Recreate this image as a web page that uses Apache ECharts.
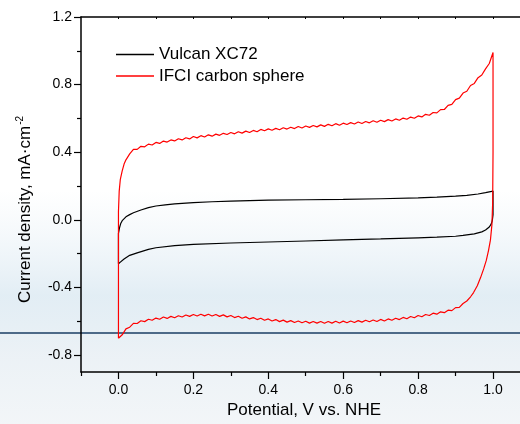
<!DOCTYPE html>
<html>
<head>
<meta charset="utf-8">
<script src="https://cdn.jsdelivr.net/npm/echarts@6/dist/echarts.min.js"></script>
<style>
  html, body { margin: 0; padding: 0; background: #fff; }
  #chart { width: 520px; height: 424px; }
</style>
</head>
<body>
<div id="chart"></div>
<script>
// axis ticks
const xMajorTicks = [0, 0.2, 0.4, 0.6, 0.8, 1.0];
const xMinorTicks = [-0.1, 0.1, 0.3, 0.5, 0.7, 0.9];
const xTopTicks = [0, 0.1, 0.2, 0.3, 0.4, 0.5, 0.6, 0.7, 0.8, 0.9, 1.0];
const yMajorTicks = [-0.8, -0.4, 0, 0.4, 0.8, 1.2];
const yMinorTicks = [-0.6, -0.2, 0.2, 0.6, 1.0];

// Vulcan XC72: anodic sweep, then cathodic sweep (potential V, current mA/cm2)
const vulcanFwd = [
  [0, -0.26], [0, -0.08], [0.003, -0.045], [0.006, -0.022], [0.01, -0.005],
  [0.02, 0.018], [0.03, 0.031], [0.04, 0.042], [0.06, 0.058], [0.08, 0.072],
  [0.1, 0.082], [0.125, 0.089], [0.15, 0.094], [0.2, 0.102], [0.25, 0.107],
  [0.3, 0.111], [0.4, 0.117], [0.5, 0.119], [0.6, 0.121], [0.7, 0.125],
  [0.8, 0.13], [0.85, 0.134], [0.9, 0.14], [0.93, 0.145], [0.96, 0.153],
  [0.98, 0.161], [1.0, 0.17]
];
const vulcanRev = [
  [1.0, 0.03], [0.998, -0.005], [0.995, -0.025], [0.99, -0.042], [0.98, -0.06],
  [0.97, -0.071], [0.95, -0.083], [0.92, -0.092], [0.9, -0.097], [0.85, -0.102],
  [0.8, -0.106], [0.7, -0.113], [0.6, -0.119], [0.5, -0.125], [0.4, -0.131],
  [0.3, -0.137], [0.2, -0.145], [0.15, -0.152], [0.1, -0.165], [0.08, -0.175],
  [0.05, -0.195], [0.03, -0.21], [0.015, -0.232], [0.005, -0.25], [0, -0.26]
];

// IFCI carbon sphere
const ifciFwd = [
  [0, -0.7], [0, 0.05], [0.002, 0.17], [0.005, 0.24], [0.01, 0.29],
  [0.015, 0.33], [0.02, 0.355], [0.03, 0.39],
  [0.04, 0.417], [0.05, 0.417], [0.06, 0.435], [0.07, 0.432], [0.08, 0.448],
  [0.09, 0.443], [0.10, 0.458], [0.11, 0.452], [0.12, 0.466], [0.13, 0.460],
  [0.14, 0.473], [0.15, 0.467], [0.16, 0.480], [0.17, 0.473], [0.18, 0.486],
  [0.19, 0.479], [0.20, 0.493], [0.21, 0.485], [0.22, 0.498], [0.23, 0.490],
  [0.24, 0.503], [0.25, 0.495], [0.26, 0.507], [0.27, 0.500], [0.28, 0.512],
  [0.29, 0.505], [0.30, 0.517], [0.31, 0.509], [0.32, 0.521], [0.33, 0.513],
  [0.34, 0.525], [0.35, 0.517], [0.36, 0.529], [0.37, 0.521], [0.38, 0.535],
  [0.39, 0.527], [0.40, 0.538], [0.41, 0.530], [0.42, 0.541], [0.43, 0.533],
  [0.44, 0.545], [0.45, 0.537], [0.46, 0.548], [0.47, 0.540], [0.48, 0.552],
  [0.49, 0.543], [0.50, 0.555], [0.51, 0.547], [0.52, 0.558], [0.53, 0.550],
  [0.54, 0.562], [0.55, 0.553], [0.56, 0.565], [0.57, 0.557], [0.58, 0.569],
  [0.59, 0.560], [0.60, 0.572], [0.61, 0.564], [0.62, 0.575], [0.63, 0.567],
  [0.64, 0.579], [0.65, 0.570], [0.66, 0.582], [0.67, 0.574], [0.68, 0.586],
  [0.69, 0.577], [0.70, 0.589], [0.71, 0.581], [0.72, 0.593], [0.73, 0.585],
  [0.74, 0.597], [0.75, 0.589], [0.76, 0.602], [0.77, 0.595], [0.78, 0.608],
  [0.79, 0.601], [0.80, 0.615], [0.81, 0.609], [0.82, 0.624], [0.83, 0.619],
  [0.84, 0.635], [0.85, 0.633], [0.86, 0.652], [0.87, 0.653], [0.88, 0.677],
  [0.89, 0.683], [0.90, 0.711], [0.91, 0.720], [0.92, 0.750], [0.93, 0.761],
  [0.94, 0.795], [0.95, 0.807], [0.96, 0.841], [0.97, 0.857], [0.98, 0.893],
  [0.99, 0.925], [1.0, 0.99]
];
const ifciRev = [
  [1.0, 0.99], [1.0, 0.4], [0.999, 0.1], [0.997, -0.03], [0.993, -0.12],
  [0.988, -0.18], [0.982, -0.24], [0.975, -0.29], [0.967, -0.34], [0.958, -0.39],
  [0.948, -0.43], [0.94, -0.455], [0.93, -0.48],
  [0.92, -0.495], [0.91, -0.518], [0.90, -0.519], [0.89, -0.537], [0.88, -0.534],
  [0.87, -0.549], [0.86, -0.544], [0.85, -0.558], [0.84, -0.552], [0.83, -0.566],
  [0.82, -0.560], [0.81, -0.573], [0.80, -0.566], [0.79, -0.579], [0.78, -0.572],
  [0.77, -0.585], [0.76, -0.577], [0.75, -0.590], [0.74, -0.582], [0.73, -0.594],
  [0.72, -0.586], [0.71, -0.598], [0.70, -0.589], [0.69, -0.601], [0.68, -0.592],
  [0.67, -0.603], [0.66, -0.594], [0.65, -0.605], [0.64, -0.596], [0.63, -0.607],
  [0.62, -0.598], [0.61, -0.609], [0.60, -0.599], [0.59, -0.610], [0.58, -0.600],
  [0.57, -0.611], [0.56, -0.601], [0.55, -0.612], [0.54, -0.601], [0.53, -0.611],
  [0.52, -0.601], [0.51, -0.611], [0.50, -0.600], [0.49, -0.609], [0.48, -0.598],
  [0.47, -0.607], [0.46, -0.596], [0.45, -0.605], [0.44, -0.593], [0.43, -0.602],
  [0.42, -0.590], [0.41, -0.598], [0.40, -0.586], [0.39, -0.594], [0.38, -0.582],
  [0.37, -0.590], [0.36, -0.578], [0.35, -0.586], [0.34, -0.574], [0.33, -0.582],
  [0.32, -0.570], [0.31, -0.578], [0.30, -0.566], [0.29, -0.574], [0.28, -0.562],
  [0.27, -0.571], [0.26, -0.560], [0.25, -0.569], [0.24, -0.558], [0.23, -0.568],
  [0.22, -0.558], [0.21, -0.569], [0.20, -0.560], [0.19, -0.571], [0.18, -0.563],
  [0.17, -0.575], [0.16, -0.567], [0.15, -0.579], [0.14, -0.571], [0.13, -0.583],
  [0.12, -0.575], [0.11, -0.588], [0.10, -0.581], [0.09, -0.594], [0.08, -0.588],
  [0.07, -0.602], [0.06, -0.597], [0.05, -0.613], [0.04, -0.612], [0.03, -0.635],
  [0.02, -0.645], [0.01, -0.680], [0, -0.7]
];

const FONT = '"Liberation Sans", Arial, sans-serif';
const fmt = (v) => v.toFixed(1);

const chart = echarts.init(document.getElementById('chart'));

chart.setOption({
  animation: false,
  backgroundColor: '#fff',
  textStyle: { fontFamily: FONT },
  graphic: [
    {
      type: 'rect', silent: true, z: -10,
      shape: { x: 0, y: 190, width: 520, height: 234 },
      style: {
        fill: new echarts.graphic.LinearGradient(0, 0, 0, 1, [
          { offset: 0, color: 'rgba(225,236,244,0)' },
          { offset: 0.45, color: 'rgba(214,230,240,0.7)' },
          { offset: 0.7, color: 'rgba(232,239,244,0.85)' },
          { offset: 1, color: 'rgba(240,244,247,0.85)' }
        ])
      }
    },
    {
      type: 'rect', silent: true, z: -5,
      shape: { x: 0, y: 332, width: 520, height: 2 },
      style: { fill: '#4d6a88' }
    }
  ],
  // the frame runs past the right edge of the picture: x max is what fits in 520px
  grid: { left: 81, top: 17, right: 0, height: 357, containLabel: false },
  legend: {
    orient: 'vertical',
    left: 116,
    top: 46,
    padding: 0,
    icon: 'rect',
    itemWidth: 38,
    itemHeight: 1.3,
    itemGap: 4.5,
    textStyle: { fontFamily: FONT, fontSize: 17, color: '#000' },
    data: ['Vulcan XC72', 'IFCI carbon sphere']
  },
  xAxis: [
    {
      type: 'value', min: -0.1, max: 1.072, position: 'bottom',
      name: 'Potential, V vs. NHE', nameLocation: 'middle', nameGap: 30,
      nameTextStyle: { fontFamily: FONT, fontSize: 17, color: '#000', padding: [0, 0, 0, 7] },
      axisLine: { show: true, onZero: false, lineStyle: { color: '#000', width: 1.5 } },
      axisTick: { show: true, length: 7, customValues: xMajorTicks, lineStyle: { color: '#000', width: 1.2 } },
      axisLabel: { customValues: xMajorTicks, formatter: fmt, margin: 11, fontFamily: FONT, fontSize: 14, color: '#000' },
      splitLine: { show: false }
    },
    {
      type: 'value', min: -0.1, max: 1.072, position: 'bottom',
      axisLine: { show: false, onZero: false },
      axisTick: { show: true, length: 4, customValues: xMinorTicks, lineStyle: { color: '#000', width: 1.2 } },
      axisLabel: { show: false },
      splitLine: { show: false }
    },
    {
      type: 'value', min: -0.1, max: 1.072, position: 'top',
      axisLine: { show: true, onZero: false, lineStyle: { color: '#000', width: 1.5 } },
      axisTick: { show: true, inside: true, length: 2, customValues: xTopTicks, lineStyle: { color: '#000', width: 1 } },
      axisLabel: { show: false },
      splitLine: { show: false }
    }
  ],
  yAxis: [
    {
      type: 'value', min: -0.9, max: 1.2, position: 'left',
      name: 'Current density, mA·cm{sup|-2}', nameLocation: 'middle', nameGap: 46,
      nameTextStyle: {
        fontFamily: FONT, fontSize: 17, color: '#000', padding: [0, 30, 0, 0],
        rich: { sup: { fontFamily: FONT, fontSize: 10, color: '#000', verticalAlign: 'top', padding: [0, 0, 10, 1] } }
      },
      axisLine: { show: true, onZero: false, lineStyle: { color: '#000', width: 1.5 } },
      axisTick: { show: true, length: 7, customValues: yMajorTicks, lineStyle: { color: '#000', width: 1.2 } },
      axisLabel: { customValues: yMajorTicks, formatter: fmt, margin: 9, fontFamily: FONT, fontSize: 14, color: '#000' },
      splitLine: { show: false }
    },
    {
      type: 'value', min: -0.9, max: 1.2, position: 'left',
      axisLine: { show: false, onZero: false },
      axisTick: { show: true, length: 4, customValues: yMinorTicks, lineStyle: { color: '#000', width: 1.2 } },
      axisLabel: { show: false },
      splitLine: { show: false }
    }
  ],
  series: [
    {
      name: 'Vulcan XC72', type: 'line', xAxisIndex: 0, yAxisIndex: 0,
      data: vulcanFwd.concat(vulcanRev),
      symbol: 'none', showSymbol: false,
      lineStyle: { color: '#000', width: 1.2 },
      itemStyle: { color: '#000' }
    },
    {
      name: 'IFCI carbon sphere', type: 'line', xAxisIndex: 0, yAxisIndex: 0,
      data: ifciFwd.concat(ifciRev),
      symbol: 'none', showSymbol: false,
      lineStyle: { color: '#ff0000', width: 1.2 },
      itemStyle: { color: '#ff0000' }
    }
  ]
});
</script>
</body>
</html>
